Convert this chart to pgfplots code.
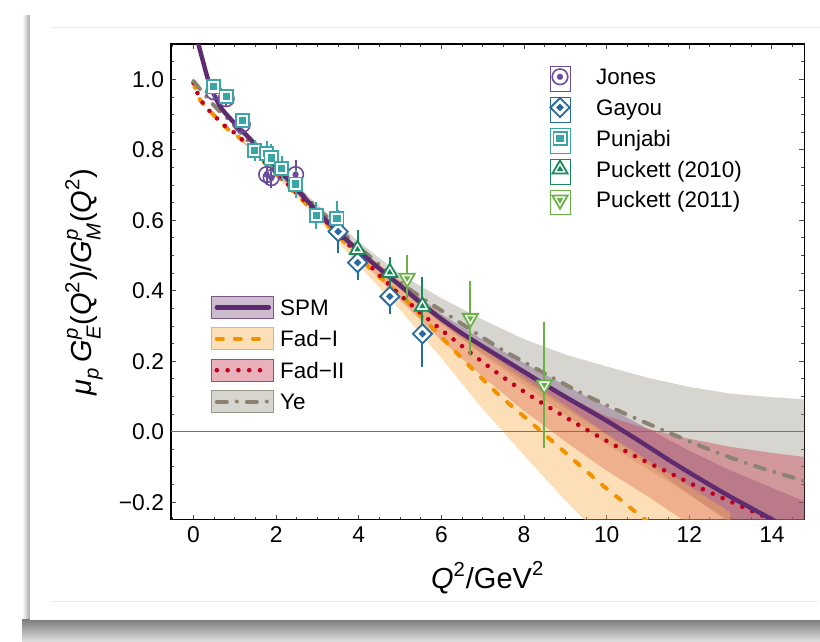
\documentclass[border=0pt]{standalone}
\usepackage{fontspec}
\setmainfont{Liberation Sans}
\usepackage{amsmath}
\usepackage{pgfplots}
\pgfplotsset{compat=1.18}

\definecolor{spmc}{RGB}{94,44,110}
\definecolor{fadic}{RGB}{243,146,0}
\definecolor{fadiic}{RGB}{192,0,30}
\definecolor{yec}{RGB}{139,130,114}
\definecolor{spmb}{RGB}{125,88,135}
\definecolor{fadib}{RGB}{250,177,77}
\definecolor{fadiib}{RGB}{200,62,80}
\definecolor{yeb}{RGB}{157,150,137}
\definecolor{jonesc}{RGB}{106,76,156}
\definecolor{gayouc}{RGB}{40,106,158}
\definecolor{punjc}{RGB}{58,166,166}
\definecolor{puckac}{RGB}{26,138,90}
\definecolor{puckbc}{RGB}{106,178,70}

\newcommand{\ti}[1]{\text{\itshape #1}}
\newcommand{\tu}[1]{\text{\upshape #1}}

% composite markers: outline + inner filled shape
\pgfdeclareplotmark{ringdot}{%
  \pgfpathcircle{\pgfpointorigin}{\pgfplotmarksize}\pgfusepathqstroke
  \pgfpathcircle{\pgfpointorigin}{0.4\pgfplotmarksize}\pgfusepathqfill}
\pgfdeclareplotmark{sqdot}{%
  \begin{pgfscope}\pgfsetfillcolor{white}%
  \pgfpathrectanglecorners{\pgfqpoint{-\pgfplotmarksize}{-\pgfplotmarksize}}{\pgfqpoint{\pgfplotmarksize}{\pgfplotmarksize}}%
  \pgfusepathqfillstroke\end{pgfscope}%
  \pgfpathrectanglecorners{\pgfqpoint{-0.55\pgfplotmarksize}{-0.55\pgfplotmarksize}}{\pgfqpoint{0.55\pgfplotmarksize}{0.55\pgfplotmarksize}}%
  \pgfusepathqfill}
\pgfdeclareplotmark{dmdot}{%
  \begin{pgfscope}\pgfsetfillcolor{white}%
  \pgfpathmoveto{\pgfqpoint{0pt}{\pgfplotmarksize}}%
  \pgfpathlineto{\pgfqpoint{\pgfplotmarksize}{0pt}}%
  \pgfpathlineto{\pgfqpoint{0pt}{-\pgfplotmarksize}}%
  \pgfpathlineto{\pgfqpoint{-\pgfplotmarksize}{0pt}}%
  \pgfpathclose\pgfusepathqfillstroke\end{pgfscope}%
  \pgfpathmoveto{\pgfqpoint{0pt}{0.4\pgfplotmarksize}}%
  \pgfpathlineto{\pgfqpoint{0.4\pgfplotmarksize}{0pt}}%
  \pgfpathlineto{\pgfqpoint{0pt}{-0.4\pgfplotmarksize}}%
  \pgfpathlineto{\pgfqpoint{-0.4\pgfplotmarksize}{0pt}}%
  \pgfpathclose\pgfusepathqfill}
\pgfdeclareplotmark{tupdot}{%
  \begin{pgfscope}\pgfsetfillcolor{white}%
  \pgfpathmoveto{\pgfqpoint{0pt}{\pgfplotmarksize}}%
  \pgfpathlineto{\pgfqpoint{-0.866\pgfplotmarksize}{-0.5\pgfplotmarksize}}%
  \pgfpathlineto{\pgfqpoint{0.866\pgfplotmarksize}{-0.5\pgfplotmarksize}}%
  \pgfpathclose\pgfusepathqfillstroke\end{pgfscope}%
  \pgfpathmoveto{\pgfqpoint{0pt}{0.42\pgfplotmarksize}}%
  \pgfpathlineto{\pgfqpoint{-0.364\pgfplotmarksize}{-0.21\pgfplotmarksize}}%
  \pgfpathlineto{\pgfqpoint{0.364\pgfplotmarksize}{-0.21\pgfplotmarksize}}%
  \pgfpathclose\pgfusepathqfill}
\pgfdeclareplotmark{tdndot}{%
  \begin{pgfscope}\pgfsetfillcolor{white}%
  \pgfpathmoveto{\pgfqpoint{0pt}{-\pgfplotmarksize}}%
  \pgfpathlineto{\pgfqpoint{-0.866\pgfplotmarksize}{0.5\pgfplotmarksize}}%
  \pgfpathlineto{\pgfqpoint{0.866\pgfplotmarksize}{0.5\pgfplotmarksize}}%
  \pgfpathclose\pgfusepathqfillstroke\end{pgfscope}%
  \pgfpathmoveto{\pgfqpoint{0pt}{-0.42\pgfplotmarksize}}%
  \pgfpathlineto{\pgfqpoint{-0.364\pgfplotmarksize}{0.21\pgfplotmarksize}}%
  \pgfpathlineto{\pgfqpoint{0.364\pgfplotmarksize}{0.21\pgfplotmarksize}}%
  \pgfpathclose\pgfusepathqfill}

\tikzset{
  spmline/.style={spmc, line width=2.2pt, line cap=round},
  fadiline/.style={fadic, line width=2pt, line cap=round, dash pattern=on 3pt off 6pt},
  fadiiline/.style={fadiic, line width=2.3pt, line cap=round, dash pattern=on 0pt off 5.4pt},
  yeline/.style={yec, line width=2pt, line cap=round, dash pattern=on 5pt off 5pt on 0pt off 5pt},
  bandop/.style={fill opacity=0.4, draw=none},
}

\pgfplotsset{
  geom/.style={
    at={(85.5pt,61.1pt)}, anchor=south west,
    scale only axis, width=316.7pt, height=237.8pt,
    xmin=-0.545, xmax=14.785, ymin=-0.25, ymax=1.10,
  },
}

\begin{document}
\begin{tikzpicture}
\useasboundingbox (0pt,0pt) rectangle (410pt,321pt);
\fill[white] (0pt,0pt) rectangle (410pt,321pt);
\shade[left color=white, right color=black!35] (11pt,11pt) rectangle (15pt,313pt);
\shade[top color=black!50, bottom color=black!12] (11pt,0pt) rectangle (410pt,11pt);
\fill[white] (15pt,11pt) rectangle (410pt,318pt);
\draw[black!8, line width=0.5pt] (26pt,307pt) -- (410pt,307pt);
\draw[black!8, line width=0.5pt] (26pt,20pt) -- (409pt,20pt);

% ---- axis A: bands, curves, frame, line legend
\begin{axis}[geom,
  xtick={0,2,4,6,8,10,12,14},
  xticklabels={0,2,4,6,8,10,12,14},
  ytick={-0.2,0,0.2,0.4,0.6,0.8,1.0},
  yticklabels={−0.2,0.0,0.2,0.4,0.6,0.8,1.0},
  minor xtick={-0.5,0,...,14.5},
  minor ytick={-0.25,-0.2,...,1.1},
  tick align=inside,
  major tick length=2.5pt, minor tick length=1.5pt,
  every tick/.style={black!70, line width=0.5pt},
  axis line style={line width=0.7pt},
  tick label style={font=\fontsize{11.4pt}{13pt}\selectfont},
  every axis x label/.style={at={(rel axis cs:0.5,0)}, anchor=center, yshift=-29pt,
    font=\fontsize{14.5pt}{17pt}\selectfont},
  every axis y label/.style={at={([xshift=-43.5pt]rel axis cs:0,0.5)}, anchor=center, rotate=90,
    font=\fontsize{14.5pt}{17pt}\selectfont},
  xlabel={$\ti{Q}^{\tu{2}}\tu{/GeV}^{\tu{2}}$},
  ylabel={$\ti{μ}_{\ti{p}}\,\ti{G}_{\ti{E}}^{\ti{p}}\tu{(}\ti{Q}^{\tu{2}}\tu{)/}\ti{G}_{\ti{M}}^{\ti{p}}\tu{(}\ti{Q}^{\tu{2}}\tu{)}$},
  legend cell align=left,
  legend style={at={(0.0632,0.4714)}, anchor=north west, draw=none, fill=none,
    inner sep=0pt, row sep=3.5pt, font=\fontsize{11.2pt}{13pt}\selectfont,
    nodes={inner sep=0pt, text height=8pt, text depth=2.5pt},
    /tikz/every odd column/.style={column sep=3pt}},
]
% Ye band
\addplot[fill=yeb, bandop, forget plot] coordinates {
 (0,0.995)(1,0.872)(2,0.751)(3,0.645)(4,0.539)(5,0.447)(6,0.379)(7,0.318)(8,0.263)
 (9,0.219)(10,0.185)(11,0.153)(12,0.127)(13,0.108)(14,0.098)(15,0.090)
 (15,-0.384)(14,-0.324)(13,-0.254)(12,-0.179)(11,-0.107)(10,-0.035)(9,0.049)(8,0.133)
 (7,0.218)(6,0.309)(5,0.403)(4,0.509)(3,0.625)(2,0.739)(1,0.866)} -- cycle;
% SPM band
\addplot[fill=spmb, bandop, forget plot] coordinates {
 (2,0.756)(3,0.631)(4,0.521)(5,0.426)(6,0.334)(7,0.261)(8,0.195)(9,0.131)(10,0.071)
 (11,0.008)(12,-0.054)(13,-0.110)(14,-0.159)(15,-0.208)
 (15,-0.418)(14,-0.339)(13,-0.260)(12,-0.178)(11,-0.092)(10,-0.009)(9,0.067)(8,0.145)
 (7,0.223)(6,0.306)(5,0.404)(4,0.505)(3,0.619)(2,0.748)} -- cycle;
% Fad-II band
\addplot[fill=fadiib, bandop, forget plot] coordinates {
 (1,0.848)(2,0.738)(3,0.624)(4,0.510)(5,0.403)(6,0.319)(7,0.243)(8,0.169)(9,0.104)
 (10,0.044)(11,0.008)(12,-0.020)(13,-0.043)(14,-0.060)(15,-0.075)
 (15,-0.465)(14,-0.400)(13,-0.333)(12,-0.262)(11,-0.184)(10,-0.111)(9,-0.028)(8,0.059)
 (7,0.156)(6,0.259)(5,0.373)(4,0.494)(3,0.615)(2,0.732)(1,0.844)} -- cycle;
% Fad-I band
\addplot[fill=fadib, bandop, forget plot] coordinates {
 (1,0.846)(2,0.735)(3,0.625)(4,0.522)(5,0.430)(6,0.329)(7,0.234)(8,0.153)(9,0.075)
 (10,-0.006)(11,-0.081)(12,-0.155)(13,-0.230)
 (13,-0.660)(12,-0.545)(11,-0.431)(10,-0.316)(9,-0.195)(8,-0.067)(7,0.064)(6,0.209)
 (5,0.346)(4,0.472)(3,0.605)(2,0.725)(1,0.844)} -- cycle;
% zero line
\addplot[black!55, line width=0.5pt, forget plot] coordinates {(-1,0) (16,0)};
% curves
\addplot[fadiline, smooth, forget plot] coordinates {
 (0,0.992)(0.08,0.962)(0.2,0.935)(0.48,0.900)(0.80,0.862)(1.21,0.824)(2,0.73)(3,0.615)
 (4,0.497)(4.35,0.455)(5.08,0.380)(5.68,0.308)(6.21,0.243)(6.77,0.176)(7.34,0.110)
 (7.98,0.045)(8.55,-0.013)(9.11,-0.071)(9.84,-0.146)(10.24,-0.184)(10.89,-0.246)(11.3,-0.285)};
\addplot[fadiiline, smooth, forget plot] coordinates {
 (0,0.99)(0.1,0.96)(0.2,0.938)(0.36,0.914)(0.52,0.895)(0.72,0.872)(0.92,0.855)(1.13,0.834)
 (1.25,0.821)(2,0.735)(3,0.62)(4,0.502)(4.43,0.453)(5,0.388)(5.8,0.308)(6.77,0.218)
 (7.42,0.161)(8.06,0.109)(8.71,0.062)(9.35,0.017)(9.84,-0.016)(10.73,-0.072)(11.45,-0.113)
 (12.14,-0.153)(12.82,-0.189)(13.55,-0.227)(14.0,-0.25)(14.8,-0.29)};
\addplot[yeline, smooth, forget plot] coordinates {
 (0,0.995)(0.48,0.928)(0.88,0.882)(1.29,0.829)(2,0.745)(3,0.635)(3.79,0.545)(4.27,0.497)
 (5,0.425)(5.4,0.39)(6.09,0.337)(7.34,0.242)(7.98,0.199)(8.79,0.147)(9.43,0.107)(10.0,0.075)
 (10.64,0.041)(11.45,0.0)(12.26,-0.040)(13.06,-0.076)(13.87,-0.108)(14.8,-0.14)};
\addplot[spmline, smooth, forget plot] coordinates {
 (0.05,1.14)(0.12,1.10)(0.24,1.047)(0.38,0.99)(0.64,0.924)(1.0,0.875)(1.37,0.831)(2.0,0.752)
 (2.5,0.688)(3.0,0.625)(3.5,0.567)(4.0,0.513)(4.5,0.463)(5.0,0.415)(5.5,0.366)(6.0,0.320)
 (6.5,0.279)(7.0,0.242)(7.5,0.206)(8.0,0.170)(8.5,0.134)(9.0,0.099)(9.5,0.065)(10.0,0.031)
 (10.5,-0.005)(11.0,-0.042)(11.5,-0.080)(12.0,-0.116)(12.5,-0.151)(13.0,-0.185)(13.5,-0.217)
 (14.0,-0.249)(14.5,-0.281)(15.0,-0.313)};
% legend for the curves
\addlegendimage{legend image code/.code={
  \fill[spmb,fill opacity=0.4] (0pt,-4.25pt) rectangle (31pt,6.75pt);
  \draw[spmline] (2.5pt,1.25pt) -- (28.5pt,1.25pt);}}
\addlegendentry{SPM}
\addlegendimage{legend image code/.code={
  \fill[fadib,fill opacity=0.4] (0pt,-4.25pt) rectangle (31pt,6.75pt);
  \draw[fadiline] (2.5pt,1.25pt) -- (29pt,1.25pt);}}
\addlegendentry{Fad−I}
\addlegendimage{legend image code/.code={
  \fill[fadiib,fill opacity=0.4] (0pt,-4.25pt) rectangle (31pt,6.75pt);
  \draw[fadiiline] (2.5pt,1.25pt) -- (29pt,1.25pt);}}
\addlegendentry{Fad−II}
\addlegendimage{legend image code/.code={
  \fill[yeb,fill opacity=0.4] (0pt,-4.25pt) rectangle (31pt,6.75pt);
  \draw[yeline] (2.5pt,1.25pt) -- (29pt,1.25pt);}}
\addlegendentry{Ye}
\end{axis}

% ---- axis B: data points and their legend
\begin{axis}[geom, hide axis,
  legend cell align=left,
  legend style={at={(0.5971,0.954)}, anchor=north west, draw=none, fill=none,
    inner sep=0pt, row sep=2.6pt, font=\fontsize{11.2pt}{13pt}\selectfont,
    nodes={inner sep=0pt, text height=8pt, text depth=2.5pt},
    /tikz/every odd column/.style={column sep=12.9pt}},
  legend image code/.code={
    \path (0pt,-6.2pt) rectangle (10pt,6.2pt);
    \draw[#1] plot coordinates {(5pt,1.25pt)};},
  error bars/error bar style={line width=1pt},
]
\addplot[jonesc, only marks, mark=ringdot, mark size=3.9pt, mark options={line width=0.8pt},
  error bars/.cd, y dir=both, y explicit, error mark=none] coordinates {
 (0.49,0.965) +- (0,0.02)
 (0.79,0.945) +- (0,0.02)
 (1.18,0.872) +- (0,0.02)
 (1.77,0.730) +- (0,0.03)
 (1.88,0.721) +- (0,0.03)
 (2.47,0.730) +- (0,0.04)};
\addlegendentry{Jones}
\addplot[gayouc, only marks, mark=dmdot, mark size=4.8pt, mark options={line width=0.9pt},
  error bars/.cd, y dir=both, y explicit, error mark=none] coordinates {
 (3.50,0.568) +- (0,0.06)
 (3.97,0.480) +- (0,0.05)
 (4.75,0.384) +- (0,0.05)
 (5.54,0.278) +- (0,0.095)};
\addlegendentry{Gayou}
\addplot[punjc, only marks, mark=sqdot, mark size=3.3pt, mark options={line width=0.9pt},
  error bars/.cd, y dir=both, y explicit, error mark=none] coordinates {
 (0.49,0.979) +- (0,0.012)
 (0.79,0.951) +- (0,0.014)
 (1.18,0.883) +- (0,0.018)
 (1.48,0.798) +- (0,0.03)
 (1.77,0.789) +- (0,0.035)
 (1.88,0.777) +- (0,0.04)
 (2.13,0.747) +- (0,0.035)
 (2.47,0.703) +- (0,0.04)
 (2.97,0.613) +- (0,0.038)
 (3.47,0.606) +- (0,0.05)};
\addlegendentry{Punjabi}
\addplot[puckac, only marks, mark=tupdot, mark size=4.4pt, mark options={line width=0.9pt},
  error bars/.cd, y dir=both, y explicit, error mark=none] coordinates {
 (3.97,0.517) +- (0,0.055)
 (4.75,0.452) +- (0,0.045)
 (5.54,0.356) +- (0,0.082)};
\addlegendentry{Puckett (2010)}
\addplot[puckbc, only marks, mark=tdndot, mark size=4.4pt, mark options={line width=0.9pt},
  error bars/.cd, y dir=both, y explicit, error mark=none] coordinates {
 (5.17,0.436) +- (0,0.066)
 (6.70,0.322) +- (0,0.107)
 (8.49,0.133) +- (0,0.178)};
\addlegendentry{Puckett (2011)}
\end{axis}
\end{tikzpicture}
\end{document}
